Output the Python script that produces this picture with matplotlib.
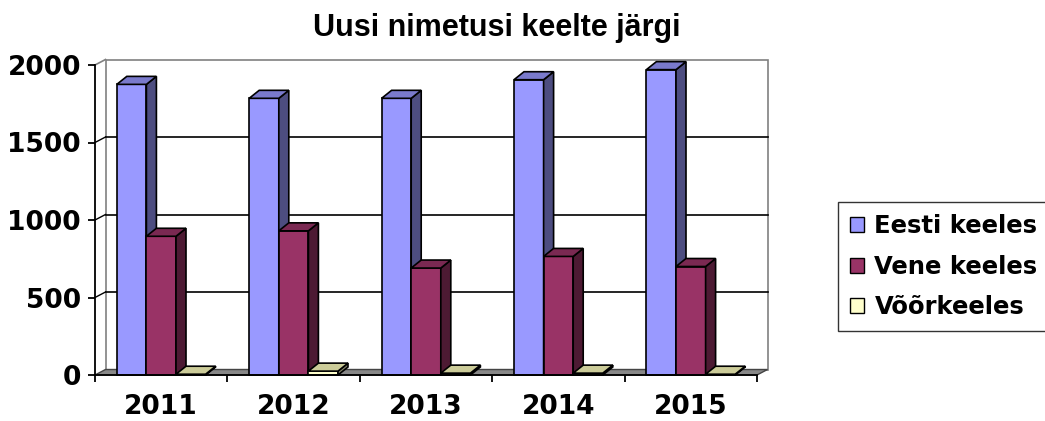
import matplotlib
matplotlib.use('Agg')
import matplotlib.pyplot as plt
from matplotlib.patches import Polygon, Patch

# data
years = ['2011', '2012', '2013', '2014', '2015']
eesti = [1875, 1785, 1785, 1905, 1970]
vene = [895, 930, 690, 765, 700]
voor = [5, 25, 12, 12, 5]
series_names = ['Eesti keeles', 'Vene keeles', 'Võõrkeeles']

# front, side, top colours per series
colors = [('#9999FF', '#4D4D80', '#7A7ACC'),
          ('#993366', '#4D1A33', '#7A2952'),
          ('#FFFFCC', '#808066', '#CCCC99')]

W, H = 1045, 421
fig = plt.figure(figsize=(W / 100, H / 100), dpi=100)
ax = fig.add_axes([95 / W, 46 / H, 662 / W, 310 / H])
ax.set_xlim(-0.5, 4.5)
ax.set_ylim(0, 2000)

px_x = 662 / 5.0      # pixels per category
px_y = 310 / 2000.0   # pixels per value unit

# depth offsets
wdx, wdy = 10.5 / px_x, 5.5 / px_y
bdx, bdy = 10 / px_x, 8 / px_y
bw = 29.6 / px_x

x0, x1 = -0.5, 4.5
wall = Polygon([(x0 + wdx, wdy), (x1 + wdx, wdy), (x1 + wdx, 2000 + wdy),
                (x0 + wdx, 2000 + wdy)], closed=True, facecolor='white',
               edgecolor='#808080', lw=1.2, zorder=0.5, clip_on=False)
ax.add_patch(wall)
ax.plot([x0, x0 + wdx], [2000, 2000 + wdy], color='#808080', lw=1.2,
        zorder=0.6, clip_on=False)
for v in [500, 1000, 1500]:
    ax.plot([x0 + wdx, x1 + wdx], [v + wdy, v + wdy], color='black', lw=1.2,
            zorder=0.6, clip_on=False)
    ax.plot([x0, x0 + wdx], [v, v + wdy], color='black', lw=1.0,
            zorder=0.6, clip_on=False)

floor = Polygon([(x0, 0), (x1, 0), (x1 + wdx, wdy), (x0 + wdx, wdy)],
                closed=True, facecolor='#888888', edgecolor='#444444',
                lw=1.0, zorder=0.7, clip_on=False)
ax.add_patch(floor)

all_vals = [eesti, vene, voor]
for i in range(len(years)):
    for s, vals in enumerate(all_vals):
        v = vals[i]
        xc = i + (s - 1) * bw
        xl, xr = xc - bw / 2, xc + bw / 2
        front, side, top = colors[s]
        ax.bar(xc, v, width=bw, color=front, edgecolor='black', lw=1.2,
               zorder=2, clip_on=False)
        ax.add_patch(Polygon([(xr, 0), (xr + bdx, bdy), (xr + bdx, v + bdy),
                              (xr, v)], closed=True, facecolor=side,
                             edgecolor='black', lw=1.2, zorder=2,
                             clip_on=False))
        ax.add_patch(Polygon([(xl, v), (xr, v), (xr + bdx, v + bdy),
                              (xl + bdx, v + bdy)], closed=True,
                             facecolor=top, edgecolor='black', lw=1.2,
                             zorder=2, clip_on=False))

for side in ['top', 'right']:
    ax.spines[side].set_visible(False)
for side in ['left', 'bottom']:
    ax.spines[side].set_linewidth(1.3)
    ax.spines[side].set_zorder(3)

tick_font = {'family': 'DejaVu Sans', 'weight': 'bold', 'size': 19}
ax.set_yticks([0, 500, 1000, 1500, 2000])
ax.set_yticklabels(['0', '500', '1000', '1500', '2000'], fontdict=tick_font)
ax.tick_params(axis='y', direction='out', length=5, width=1.3, pad=5)

ax.set_xticks([-0.5, 0.5, 1.5, 2.5, 3.5, 4.5])
ax.set_xticklabels([])
ax.set_xticks(range(len(years)), minor=True)
ax.set_xticklabels(years, minor=True, fontdict=tick_font)
ax.tick_params(axis='x', which='major', direction='out', length=5, width=1.3)
ax.tick_params(axis='x', which='minor', length=0, pad=14)
ax.set_facecolor('none')

fig.text(497 / W, 1 - 28 / H, 'Uusi nimetusi keelte järgi', ha='center',
         va='center', family='Liberation Sans', weight='bold', size=22)

handles = [Patch(facecolor=c[0], edgecolor='black', lw=1.0) for c in colors]
leg = fig.legend(handles, series_names, loc='upper left',
                 bbox_to_anchor=(838 / W, 1 - 202 / H), borderaxespad=0,
                 frameon=True, fancybox=False, edgecolor='black',
                 prop={'family': 'DejaVu Sans', 'weight': 'bold', 'size': 17.5},
                 handlelength=0.58, handleheight=0.58, handletextpad=0.42,
                 labelspacing=0.68, borderpad=0.5)
leg.get_frame().set_linewidth(1.0)

fig.savefig('out.png', dpi=100)
